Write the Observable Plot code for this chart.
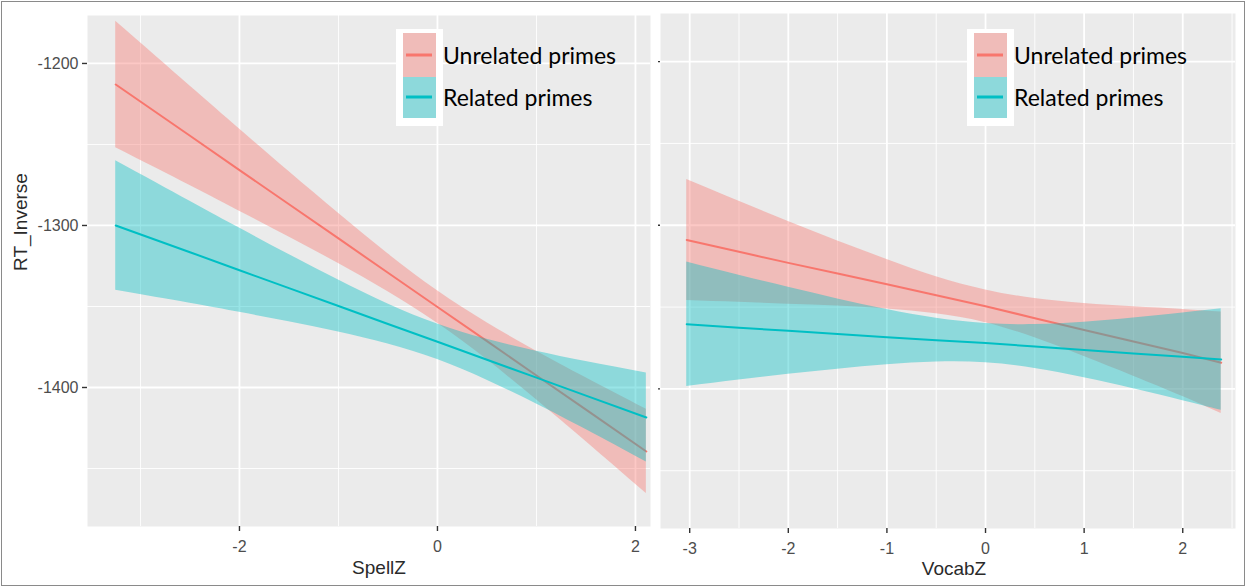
<!DOCTYPE html>
<html>
<head>
<meta charset="utf-8">
<script src="https://cdn.jsdelivr.net/npm/d3@7"></script>
<script src="https://cdn.jsdelivr.net/npm/@observablehq/plot@0.6"></script>
<style>
  html, body { margin: 0; padding: 0; background: #ffffff; }
  #wrap { position: relative; width: 1247px; height: 588px; overflow: hidden; background: #fff; }
  #wrap > svg { position: absolute; left: 0; top: 0; }
  #border { position: absolute; left: 1px; top: 1px; width: 1242px; height: 583px; border: 1px solid #8a8a8a; }
</style>
</head>
<body>
<div id="wrap"><div id="border"></div></div>
<script>
// ---------- data ----------
const seriesNames = ["Unrelated primes", "Related primes"];
const seriesColors = ["#F8766D", "#00BFC4"];

// Left panel: SpellZ
const spellX        = [-3.25, -2.5, -2, -1.5, -1, -0.5, 0, 0.5, 1, 1.5, 2.11];
const unrelSpellFit = [-1213.0, -1244.6, -1265.8, -1286.9, -1308.0, -1329.2, -1350.3, -1371.4, -1392.6, -1413.7, -1439.5];
const unrelSpellLo  = [-1252.0, -1275.3, -1291.2, -1307.1, -1323.5, -1340.9, -1360.3, -1382.8, -1407.6, -1433.4, -1465.5];
const unrelSpellHi  = [-1174.0, -1213.9, -1240.4, -1266.7, -1292.5, -1317.5, -1340.3, -1360.0, -1377.6, -1394.0, -1413.5];
const relSpellFit   = [-1300.0, -1316.5, -1327.6, -1338.7, -1349.7, -1360.8, -1371.8, -1382.9, -1393.9, -1405.0, -1418.5];
const relSpellLo    = [-1340.0, -1348.0, -1353.6, -1359.5, -1365.8, -1373.2, -1382.8, -1395.5, -1410.2, -1426.0, -1446.0];
const relSpellHi    = [-1260.0, -1285.0, -1301.6, -1317.9, -1333.6, -1348.4, -1360.8, -1370.3, -1377.6, -1384.0, -1391.0];

// Right panel: VocabZ
const vocabX        = [-3.03, -2.5, -2, -1.5, -1, -0.5, 0, 0.5, 1, 1.5, 2, 2.39];
const unrelVocabFit = [-1309.0, -1316.2, -1323.0, -1329.5, -1336.0, -1342.8, -1349.5, -1356.8, -1364.0, -1371.0, -1378.0, -1384.0];
const unrelVocabLo  = [-1346.0, -1347.1, -1348.3, -1349.4, -1351.1, -1354.1, -1359.5, -1368.8, -1380.2, -1392.2, -1404.6, -1415.0];
const unrelVocabHi  = [-1272.0, -1285.3, -1297.7, -1309.6, -1320.9, -1331.5, -1339.5, -1344.8, -1347.8, -1349.8, -1351.4, -1353.0];
const relVocabFit   = [-1360.5, -1362.6, -1364.5, -1366.5, -1368.4, -1370.2, -1372.0, -1374.1, -1376.2, -1378.3, -1380.4, -1382.0];
const relVocabLo    = [-1398.5, -1394.6, -1391.1, -1388.0, -1385.3, -1383.6, -1384.0, -1387.5, -1393.2, -1399.9, -1407.2, -1413.0];
const relVocabHi    = [-1322.5, -1330.6, -1337.9, -1345.0, -1351.5, -1356.8, -1360.0, -1360.7, -1359.2, -1356.7, -1353.6, -1351.0];

// Axes
const yTicks       = [-1200, -1300, -1400];
const yMinor       = [-1250, -1350, -1450];
const spellTicks   = [-2, 0, 2];
const spellMinor   = [-3, -1, 1];
const vocabTicks   = [-3, -2, -1, 0, 1, 2];
const vocabMinor   = [-2.5, -1.5, -0.5, 0.5, 1.5, 2.5];
const yLabel = "RT_Inverse";
const spellLabel = "SpellZ";
const vocabLabel = "VocabZ";

// ---------- helpers ----------
function table(xs, fit, lo, hi) {
  return xs.map((x, i) => ({x, fit: fit[i], lo: lo[i], hi: hi[i]}));
}
const BG = "#EBEBEB";
const FONT = "'Liberation Sans', Arial, sans-serif";

function panel(opts) {
  const {xs, unrel, rel, xDomain, yDomain, margins, xTicks, xMinor, xLabel, labelDx, labelDy, showYLabels} = opts;
  const du = table(xs, ...unrel);
  const dr = table(xs, ...rel);
  const marks = [
    Plot.frame({fill: BG, stroke: "none"}),
    Plot.ruleX(xMinor, {stroke: "white", strokeWidth: 0.9}),
    Plot.ruleY(yMinor, {stroke: "white", strokeWidth: 0.9}),
    Plot.ruleX(xTicks, {stroke: "white", strokeWidth: 1.8}),
    Plot.ruleY(yTicks, {stroke: "white", strokeWidth: 1.8}),
    Plot.areaY(du, {x: "x", y1: "lo", y2: "hi", fill: seriesColors[0], fillOpacity: 0.4, curve: "natural"}),
    Plot.line(du, {x: "x", y: "fit", stroke: seriesColors[0], strokeWidth: 2}),
    Plot.areaY(dr, {x: "x", y1: "lo", y2: "hi", fill: seriesColors[1], fillOpacity: 0.4, curve: "natural"}),
    Plot.line(dr, {x: "x", y: "fit", stroke: seriesColors[1], strokeWidth: 2}),
    Plot.axisX(xTicks, {tickSize: 5, tickPadding: 9, fontSize: 16, tickFormat: d => String(d),
      fill: "#4D4D4D", stroke: "#333333", strokeWidth: 1.4, label: null}),
    Plot.text([xLabel], {frameAnchor: "bottom", dx: labelDx, dy: labelDy, lineAnchor: "middle",
      fontSize: "19px", fill: "#2a2a2a", fontFamily: FONT})
  ];
  if (showYLabels) {
    marks.push(Plot.axisY(yTicks, {tickSize: 5, tickPadding: 4, fontSize: 16, tickFormat: d => String(d),
      fill: "#4D4D4D", stroke: "#333333", strokeWidth: 1.4, label: null}));
    marks.push(Plot.text([yLabel], {frameAnchor: "left", dx: -67, rotate: -90, lineAnchor: "middle",
      fontSize: "19px", fill: "#2a2a2a", fontFamily: FONT}));
  } else {
    marks.push(Plot.axisY(yTicks, {tickSize: 2, tickFormat: () => "", stroke: "#333333", strokeWidth: 1.4, label: null}));
  }
  return Plot.plot({
    width: 1247, height: 588,
    ...margins,
    x: {domain: xDomain},
    y: {domain: yDomain},
    style: {background: "transparent", fontFamily: FONT},
    marks
  });
}

const left = panel({
  xs: spellX,
  unrel: [unrelSpellFit, unrelSpellLo, unrelSpellHi],
  rel: [relSpellFit, relSpellLo, relSpellHi],
  xDomain: [-3.535, 2.152], yDomain: [-1485.8, -1170.4],
  margins: {marginLeft: 87, marginRight: 597, marginTop: 15, marginBottom: 62},
  xTicks: spellTicks, xMinor: spellMinor, xLabel: spellLabel, labelDx: 10, labelDy: 41, showYLabels: true
});
const right = panel({
  xs: vocabX,
  unrel: [unrelVocabFit, unrelVocabLo, unrelVocabHi],
  rel: [relVocabFit, relVocabLo, relVocabHi],
  xDomain: [-3.296, 2.535], yDomain: [-1485.3, -1170.6],
  margins: {marginLeft: 660, marginRight: 12, marginTop: 13, marginBottom: 60},
  xTicks: vocabTicks, xMinor: vocabMinor, xLabel: vocabLabel, labelDx: 6, labelDy: 40, showYLabels: false
});

const wrap = document.getElementById("wrap");
wrap.appendChild(left);
wrap.appendChild(right);

// ---------- legends (overlay boxes inside each panel) ----------
function legend(boxLeft) {
  const ns = "http://www.w3.org/2000/svg";
  const svg = document.createElementNS(ns, "svg");
  svg.setAttribute("width", 1247); svg.setAttribute("height", 588);
  svg.style.position = "absolute"; svg.style.left = "0"; svg.style.top = "0";
  const g = document.createElementNS(ns, "g");
  g.setAttribute("transform", `translate(${boxLeft},29)`);
  svg.appendChild(g);
  const add = (tag, attrs, text) => {
    const el = document.createElementNS(ns, tag);
    for (const k in attrs) el.setAttribute(k, attrs[k]);
    if (text) el.textContent = text;
    g.appendChild(el); return el;
  };
  add("rect", {x: 0, y: 0, width: 47, height: 97, fill: "#ffffff"});
  const keyY = [4, 48], keyH = [44, 41], lineY = [26, 68], textY = [35, 77];
  seriesNames.forEach((name, i) => {
    add("rect", {x: 7, y: keyY[i], width: 33, height: keyH[i], fill: BG});
    add("rect", {x: 7, y: keyY[i], width: 33, height: keyH[i], fill: seriesColors[i], "fill-opacity": 0.4});
    add("line", {x1: 10, x2: 36, y1: lineY[i], y2: lineY[i], stroke: seriesColors[i], "stroke-width": 3});
    add("text", {x: 47, y: textY[i], "font-family": "Lato, 'Open Sans', sans-serif", "font-size": 23, fill: "#000"}, name);
  });
  return svg;
}
wrap.appendChild(legend(396));
wrap.appendChild(legend(967));
</script>
</body>
</html>
